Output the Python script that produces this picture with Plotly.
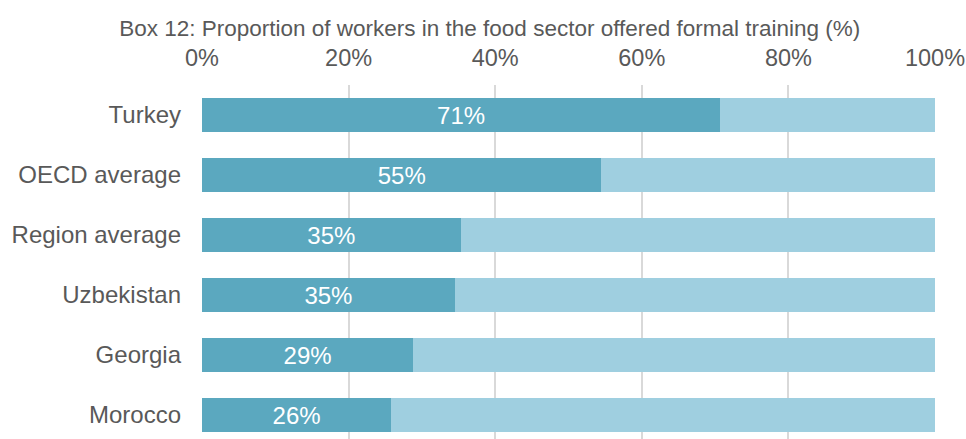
import plotly.graph_objects as go

countries = ["Turkey", "OECD average", "Region average", "Uzbekistan", "Georgia", "Morocco"]
trained = [70.7, 54.5, 35.3, 34.5, 28.8, 25.8]
trained_labels = ["71%", "55%", "35%", "35%", "29%", "26%"]
rest = [100 - v for v in trained]
tick_vals = [0, 20, 40, 60, 80, 100]
tick_text = ["0%", "20%", "40%", "60%", "80%", "100%"]

DARK = "#5ba8bf"
LIGHT = "#9fcfe0"
GREY = "#595959"
FONT = "Liberation Sans, Arial, sans-serif"

fig = go.Figure()
fig.add_trace(go.Bar(
    y=countries, x=trained, orientation="h", marker=dict(color=DARK, line=dict(width=0)),
    text=trained_labels, textposition="inside", insidetextanchor="middle",
    textfont=dict(color="white", size=24, family=FONT), hoverinfo="x+y", showlegend=False,
))
fig.add_trace(go.Bar(
    y=countries, x=rest, orientation="h", marker=dict(color=LIGHT, line=dict(width=0)),
    hoverinfo="x+y", showlegend=False,
))

fig.update_layout(
    width=966, height=439, barmode="stack", bargap=0.43,
    plot_bgcolor="white", paper_bgcolor="white",
    margin=dict(l=202, r=31, t=85, b=0, autoexpand=False),
    font=dict(family=FONT, color=GREY, size=24),
    title=dict(text="Box 12: Proportion of workers in the food sector offered formal training (%)",
               x=0.507, xref="container", xanchor="center", y=0.936, yanchor="middle",
               font=dict(size=22.5, color=GREY, family=FONT)),
    xaxis=dict(side="top", range=[0, 100], tickvals=tick_vals, ticktext=tick_text,
               showgrid=True, gridcolor="#d9d9d9", gridwidth=2, zeroline=False,
               showline=False, ticks="", ticklabelstandoff=13, ticklabeloverflow="allow",
               automargin=False, tickfont=dict(size=23.5, color=GREY)),
    yaxis=dict(categoryorder="array", categoryarray=countries, range=[5.4, -0.5],
               showgrid=False, ticks="", ticklabelstandoff=20, automargin=False,
               tickfont=dict(size=24, color=GREY)),
)

# drop the default body margin / scrollbars so the figure fills the window exactly
fig.write_html("out.html", config={"displayModeBar": False},
               post_script="document.body.style.margin='0';document.body.style.overflow='hidden';")
